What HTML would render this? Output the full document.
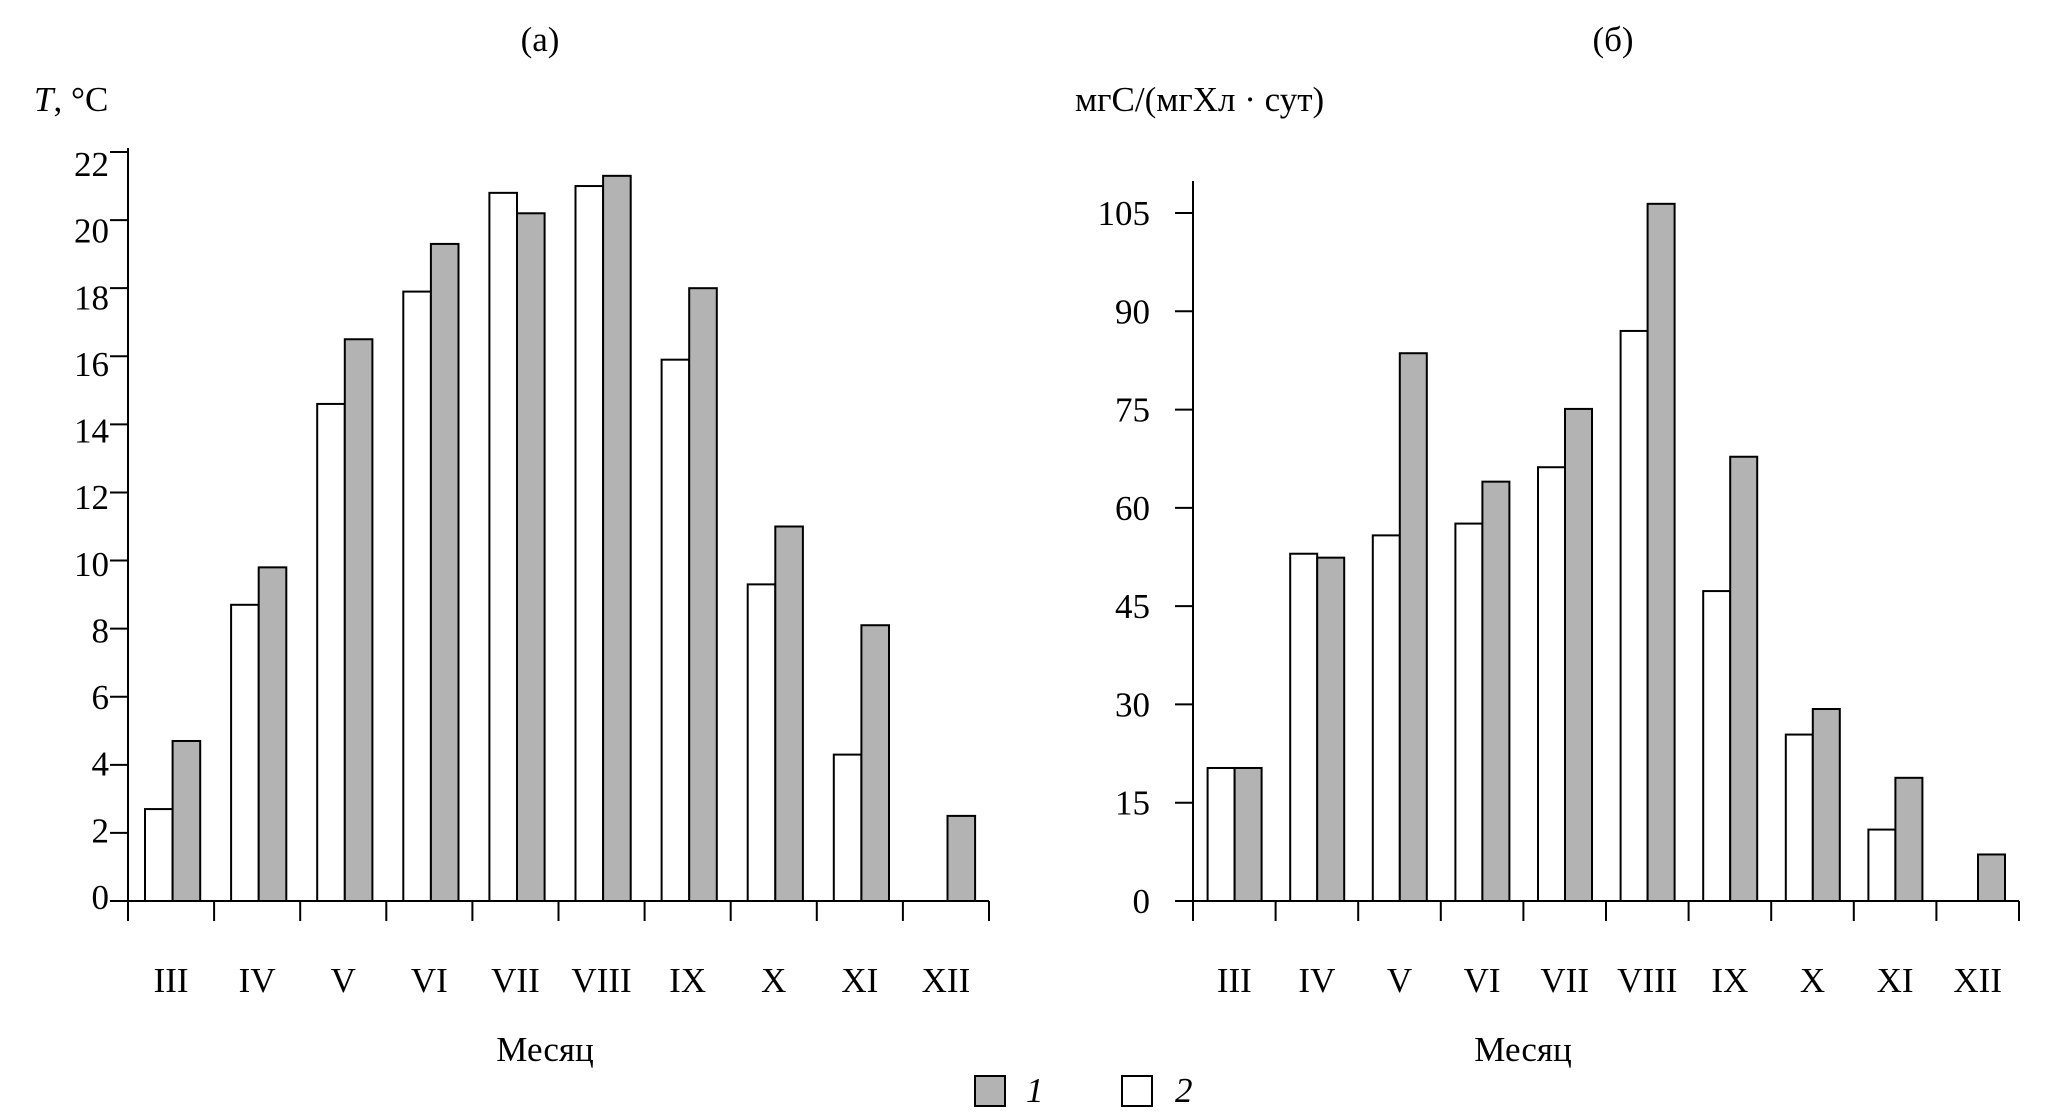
<!DOCTYPE html>
<html><head><meta charset="utf-8"><style>
html,body{margin:0;padding:0;background:#fff;}
svg{display:block;font-family:"Liberation Serif","DejaVu Serif",serif;}
</style></head><body>
<svg id="chart" width="2052" height="1114" viewBox="0 0 2052 1114" xmlns="http://www.w3.org/2000/svg">
<text x="540" y="51" font-size="35" text-anchor="middle">(a)</text>
<text x="1613" y="51" font-size="35" text-anchor="middle">(б)</text>
<text x="34" y="111" font-size="35"><tspan font-style="italic">T</tspan>, °C</text>
<text x="1075" y="111" font-size="35">мгС/(мгХл · сут)</text>
<text x="545" y="1061" font-size="35" text-anchor="middle">Месяц</text>
<text x="1523" y="1061" font-size="35" text-anchor="middle">Месяц</text>
<g>
<rect x="975" y="1076" width="30" height="30" fill="#b3b3b3" stroke="#000" stroke-width="2"/>
<text x="1026" y="1102" font-size="35" font-style="italic">1</text>
<rect x="1122" y="1076" width="30" height="30" fill="#fff" stroke="#000" stroke-width="2"/>
<text x="1175" y="1102" font-size="35" font-style="italic">2</text>
</g>
<g id="pa"></g>
<g id="pb"></g>
</svg>
<script>
const months = ["III","IV","V","VI","VII","VIII","IX","X","XI","XII"];
const tempSeries2 = [2.7, 8.7, 14.6, 17.9, 20.8, 21.0, 15.9, 9.3, 4.3, 0];
const tempSeries1 = [4.7, 9.8, 16.5, 19.3, 20.2, 21.3, 18.0, 11.0, 8.1, 2.5];
const tempTicks = [0,2,4,6,8,10,12,14,16,18,20,22];
const prodSeries2 = [20.3, 53.0, 55.8, 57.6, 66.2, 87.0, 47.3, 25.4, 10.9, 0];
const prodSeries1 = [20.3, 52.4, 83.6, 64.0, 75.1, 106.4, 67.8, 29.3, 18.8, 7.1];
const prodTicks = [0,15,30,45,60,75,90,105];

const NS="http://www.w3.org/2000/svg";
function mk(parent, tag, attrs){const e=document.createElementNS(NS,tag);for(const k in attrs)e.setAttribute(k,attrs[k]);parent.appendChild(e);return e;}

function draw(g, cfg){
  const {x0, x1, y0, yTop, axisTop, vmax, ticks, s1, s2, prefix, labelRight, labelShift, barOff, barW} = cfg;
  const yS = v => y0 - (y0 - yTop) * v / vmax;
  const gw = (x1 - x0) / months.length;
  const ax = mk(g,'line',{x1:x0,y1:axisTop,x2:x0,y2:y0,stroke:'#000','stroke-width':2});
  
  
  const bx = mk(g,'line',{x1:x0,y1:y0,x2:x1,y2:y0,stroke:'#000','stroke-width':2});
  
  
  ticks.forEach(t=>{
    const y=yS(t);
    const tl=mk(g,'line',{x1:x0-18,y1:y,x2:x0,y2:y,stroke:'#000','stroke-width':2});
    
    
    const tx=mk(g,'text',{x:labelRight,y:y+12+labelShift(t),'font-size':35,'text-anchor':'end'});
    tx.textContent=String(t);
    
    
  });
  for(let i=0;i<=months.length;i++){
    const x=x0+gw*i;
    const l=mk(g,'line',{x1:x,y1:y0,x2:x,y2:y0+20,stroke:'#000','stroke-width':2});
    
    
  }
  months.forEach((m,i)=>{
    const gx=x0+gw*i;
    const t=mk(g,'text',{x:gx+gw/2,y:992,'font-size':35,'text-anchor':'middle'});
    t.textContent=m;
    
    
    if(s2[i]>0){
      const r=mk(g,'rect',{x:gx+barOff,y:yS(s2[i]),width:barW,height:y0-yS(s2[i]),fill:'#fff',stroke:'#000','stroke-width':2});
      
      
    }
    if(s1[i]>0){
      const r=mk(g,'rect',{x:gx+barOff+barW,y:yS(s1[i]),width:barW,height:y0-yS(s1[i]),fill:'#b3b3b3',stroke:'#000','stroke-width':2});
      
      
    }
  });
}
draw(document.getElementById('pa'),{x0:128,x1:989,y0:901,yTop:152,axisTop:148,vmax:22,ticks:tempTicks,s1:tempSeries1,s2:tempSeries2,prefix:'panel-a',labelRight:109,labelShift:t=>-4+16*t/22,barOff:17,barW:27.6});
draw(document.getElementById('pb'),{x0:1193,x1:2019,y0:901,yTop:213,axisTop:181,vmax:105,ticks:prodTicks,s1:prodSeries1,s2:prodSeries2,prefix:'panel-b',labelRight:1150,labelShift:t=>0,barOff:14.6,barW:27});
</script>
</body></html>
